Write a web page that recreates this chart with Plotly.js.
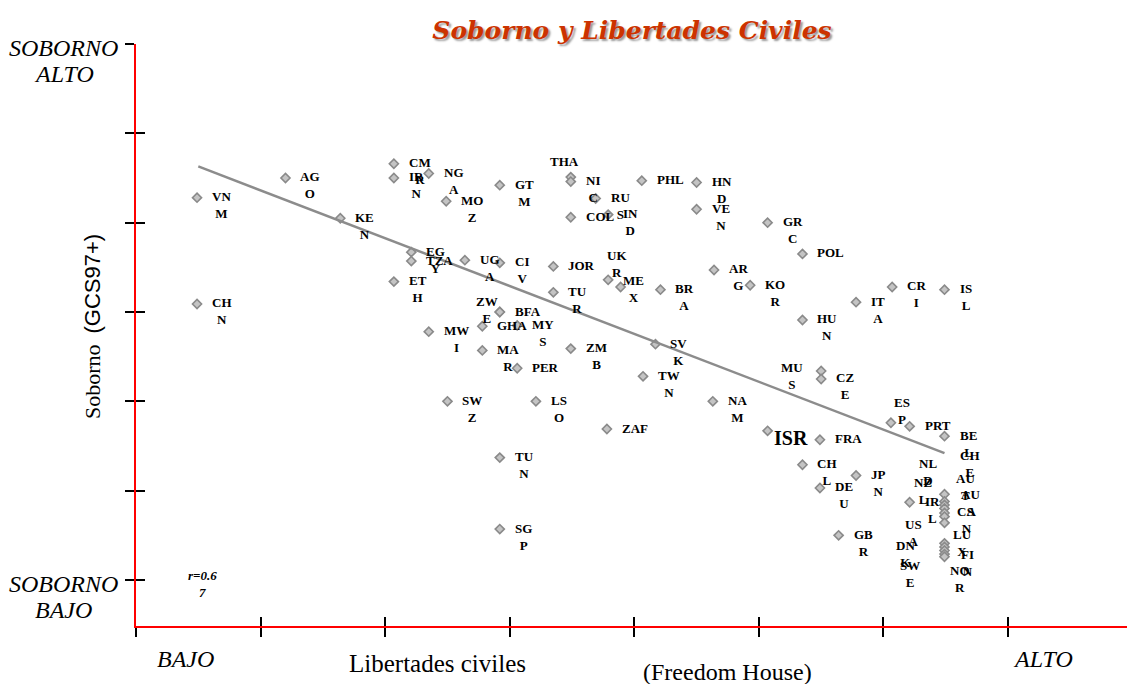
<!DOCTYPE html>
<html><head><meta charset="utf-8">
<script src="https://cdn.plot.ly/plotly-3.0.1.min.js"></script>
<style>html,body{margin:0;padding:0;background:#fff}</style>
</head><body><div id="chart" style="width:1127px;height:684px"></div>
<script>
// x: Libertades civiles (Freedom House), 0 = BAJO ... 7 = ALTO
// y: Soborno (GCS97+), 0 = SOBORNO BAJO ... 6 = SOBORNO ALTO
const countries = ['VNM','CHN','AGO','KEN','CMR','IRN','NGA','MOZ','EGY','TZA','ETH','MWI','UGA','GTM','THA','NIC','RUS','COL','IND','CIV','JOR','UKR','MEX','TUR','BRA','ZWE','BFA','GHA','MYS','PHL','HND','VEN','GRC','POL','ARG','KOR','ITA','HUN','SVK','CRI','ISL','MAR','PER','ZMB','TWN','SWZ','LSO','ZAF','TUN','SGP','MUS','CZE','NAM','ISR','FRA','CHL','DEU','JPN','GBR','ESP','PRT','BEL','NZL','CHE','AUT','AUS','NLD','IRL','CAN','USA','LUX','FIN','NOR','DNK','SWE'];
const libertades = [0.49,0.49,1.20,1.64,2.07,2.07,2.35,2.49,2.21,2.21,2.07,2.35,2.64,2.92,3.49,3.49,3.69,3.49,3.79,2.92,3.35,3.79,3.89,3.35,4.21,2.92,2.92,2.78,3.06,4.06,4.50,4.50,5.07,5.35,4.64,4.93,5.78,5.35,4.17,6.07,6.49,2.78,3.06,3.49,4.07,2.50,3.21,3.78,2.92,2.92,5.50,5.50,4.63,5.07,5.49,5.35,5.49,5.78,5.64,6.06,6.21,6.49,6.21,6.49,6.49,6.49,6.49,6.49,6.49,6.49,6.49,6.49,6.49,6.49,6.49];
const soborno = [4.28,3.09,4.50,4.05,4.66,4.50,4.55,4.24,3.67,3.57,3.34,2.78,3.58,4.42,4.51,4.46,4.27,4.06,4.09,3.55,3.51,3.36,3.28,3.22,3.25,3.00,3.00,2.84,2.85,4.47,4.45,4.15,4.00,3.65,3.47,3.30,3.11,2.91,2.64,3.28,3.25,2.57,2.37,2.59,2.28,2.00,2.00,1.69,1.37,0.57,2.34,2.25,2.00,1.67,1.57,1.29,1.03,1.17,0.50,1.76,1.72,1.61,0.87,0.96,0.88,0.84,0.80,0.75,0.71,0.64,0.41,0.37,0.33,0.29,0.26];
const singleLine = ['THA','COL','JOR','PER','ZAF','FRA','POL','PRT','BFA','GHA','TZA','PHL','ISR'];
const trendX = [0.50, 6.49];
const trendY = [4.63, 1.42];
const xTickVals = [0,1,2,3,4,5,6,7];
const yTickVals = [0,1,2,3,4,5,6];
const yEndLabels = [['SOBORNO','BAJO'],['SOBORNO','ALTO']];
const xEndLabels = ['BAJO','ALTO'];
const correlation = 'r=0.6<br>7';

// label placement tweaks (pixels) for crowded labels: [dx, dy(down)]
const labelMove = {THA:[-36,-15],UKR:[-16,-23],MEX:[-13,-5],ZWE:[-39,-9],MUS:[-55,-2],ISR:[-9,8],ESP:[-12,-19],
  NZL:[-11,-19],CHE:[0,-38],AUT:[-4,-22],AUS:[1,-9],NLD:[-41,-44],IRL:[-35,-10],CAN:[-3,-4],USA:[-55,3],
  LUX:[-7,-8],FIN:[1,9],NOR:[-10,21],DNK:[-64,-8],SWE:[-60,10]};

const XR = [0, 7.955], YR = [-0.515, 6];
const serif = 'Liberation Serif';

const annotations = [];
countries.forEach((c, i) => {
  const one = singleLine.includes(c);
  const txt = one ? c : c.slice(0,2) + '<br>' + c.slice(2);
  const fs = c === 'ISR' ? 20 : 13;
  const lh = fs * 1.3;
  const mv = labelMove[c] || [0,0];
  const n = one ? 1 : 2;
  annotations.push({x: libertades[i], y: soborno[i], xref:'x', yref:'y', text:'<b>'+txt+'</b>',
    showarrow:false, xanchor:'left', yanchor:'middle', align:'center', borderpad:0,
    xshift: 14 + mv[0], yshift: -(n-1)*lh/2 + 1 - mv[1],
    font:{family:serif, size:fs, color:'#000'}});
});
// y end labels (one annotation per line)
[0,6].forEach((v,k) => yEndLabels[k].forEach((t,j) => annotations.push({x:-0.0727, xref:'paper', y:v, yref:'y',
  yshift:-4 - 26*j, text:'<i>'+t+'</i>', showarrow:false, xanchor:'center', yanchor:'middle',
  font:{family:serif, size:24, color:'#000'}})));
// x end labels
[0.40, 7.28].forEach((v,k) => annotations.push({x:v, xref:'x', y:0, yref:'paper', yshift:-33,
  text:'<i>'+xEndLabels[k]+'</i>', showarrow:false, xanchor:'center', yanchor:'middle',
  font:{family:serif, size:24, color:'#000'}}));
annotations.push({x:2.424, xref:'x', y:0, yref:'paper', yshift:-37, text:'Libertades civiles', showarrow:false,
  xanchor:'center', yanchor:'middle', font:{family:serif, size:25, color:'#000'}});
annotations.push({x:4.748, xref:'x', y:0, yref:'paper', yshift:-46, text:'(Freedom House)', showarrow:false,
  xanchor:'center', yanchor:'middle', font:{family:serif, size:24, color:'#000'}});
annotations.push({x:-0.0444, xref:'paper', y:2.843, yref:'y', textangle:-90,
  text:'Soborno  <span style="font-family:Liberation Sans">(GCS97+)</span>', showarrow:false,
  xanchor:'center', yanchor:'middle', font:{family:serif, size:22, color:'#000'}});
annotations.push({x:0.534, xref:'x', y:-0.05, yref:'y', text:'<b><i>'+correlation+'</i></b>', showarrow:false,
  xanchor:'center', yanchor:'middle', align:'center', font:{family:serif, size:13, color:'#000'}});

const axisBase = {showgrid:false, zeroline:false, fixedrange:true, tickcolor:'#000', tickwidth:2, ticklen:9};
const layout = {
  width:1127, height:684, paper_bgcolor:'#fff', plot_bgcolor:'#fff', showlegend:false,
  margin:{l:136, r:0, t:44, b:58},
  title:{text:'Soborno y Libertades Civiles', x:0.5005, xref:'paper', xanchor:'center', y:0.956, yref:'container', yanchor:'middle',
    font:{family:'DejaVu Serif', size:25, color:'#cc3300', weight:'bold', style:'italic', shadow:'2px 2px 2px #999'}},
  xaxis:Object.assign({}, axisBase, {range:XR, tickvals:xTickVals, ticktext:xTickVals.map(()=>''), ticks:'outside',
    showline:true, linecolor:'#ff0000', linewidth:2}),
  yaxis:Object.assign({}, axisBase, {range:YR, tickvals:yTickVals, ticktext:yTickVals.map(()=>''), ticks:'outside',
    showline:true, linecolor:'#ff0000', linewidth:2}),
  xaxis2:Object.assign({}, axisBase, {range:XR, overlaying:'x', anchor:'y2', side:'bottom', tickvals:xTickVals,
    showticklabels:false, ticks:'inside', showline:false}),
  yaxis2:Object.assign({}, axisBase, {range:YR, overlaying:'y', anchor:'x2', side:'left', tickvals:yTickVals,
    showticklabels:false, ticks:'inside', showline:false}),
  annotations:annotations
};
const traces = [
  {type:'scatter', mode:'markers', x:libertades, y:soborno, text:countries, hoverinfo:'text', cliponaxis:false,
   marker:{symbol:'diamond', size:7, color:'#c4c4c4', line:{color:'#8a8a8a', width:1.6}}},
  {type:'scatter', mode:'lines', x:trendX, y:trendY, xaxis:'x2', yaxis:'y2', hoverinfo:'skip',
   line:{color:'#8c8c8c', width:2.5}}
];
Plotly.newPlot('chart', traces, layout, {displayModeBar:false, staticPlot:true});
</script></body></html>
